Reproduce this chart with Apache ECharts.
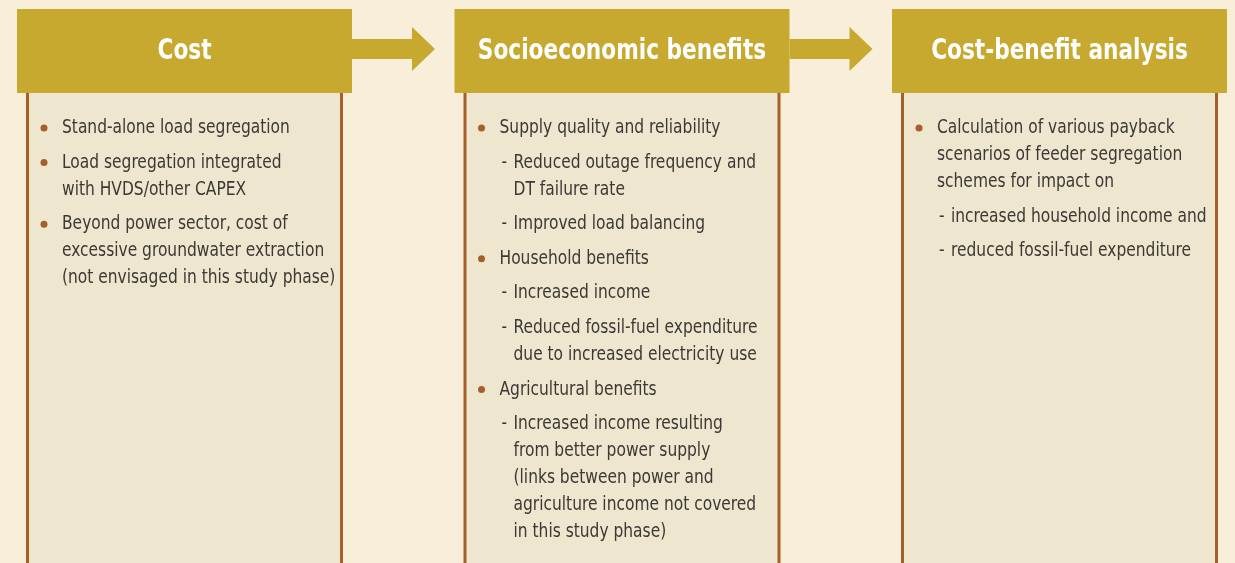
<!DOCTYPE html>
<html>
<head>
<meta charset="utf-8">
<script src="https://cdn.jsdelivr.net/npm/echarts@6/dist/echarts.min.js"></script>
<style>
  html, body { margin: 0; padding: 0; background: #F9EED9; }
  #main { width: 1235px; height: 563px; }
</style>
</head>
<body>
<div id="main"></div>
<script>
// column headings
var titles = ['Cost', 'Socioeconomic benefits', 'Cost-benefit analysis'];

// items per column: [level, text]  level 1 = bullet, level 2 = dash
var costItems = [
  [1, 'Stand-alone load segregation'],
  [1, 'Load segregation integrated\nwith HVDS/other CAPEX'],
  [1, 'Beyond power sector, cost of\nexcessive groundwater extraction\n(not envisaged in this study phase)']
];
var benefitItems = [
  [1, 'Supply quality and reliability'],
  [2, 'Reduced outage frequency and\nDT failure rate'],
  [2, 'Improved load balancing'],
  [1, 'Household benefits'],
  [2, 'Increased income'],
  [2, 'Reduced fossil-fuel expenditure\ndue to increased electricity use'],
  [1, 'Agricultural benefits'],
  [2, 'Increased income resulting\nfrom better power supply\n(links between power and\nagriculture income not covered\nin this study phase)']
];
var cbaItems = [
  [1, 'Calculation of various payback\nscenarios of feeder segregation\nschemes for impact on'],
  [2, 'increased household income and'],
  [2, 'reduced fossil-fuel expenditure']
];

var columns = [costItems, benefitItems, cbaItems];

var FONT = "'DejaVu Sans Condensed', 'Liberation Sans Narrow', sans-serif";
var GOLD = '#C6A92E';
var BROWN = '#A65F28';
var TEXT = '#3B3936';

// condensed look: squeeze text horizontally
function label (txt, x, y, opts) {
  return {
    type: 'text',
    x: x, y: y,
    scaleX: opts.scaleX,
    style: {
      text: txt, x: 0, y: 0,
      align: opts.align || 'left',
      verticalAlign: opts.verticalAlign || 'top',
      lineHeight: opts.lineHeight,
      fill: opts.fill || TEXT,
      fontSize: opts.fontSize || 19,
      fontWeight: opts.fontWeight || 'normal',
      fontFamily: FONT
    },
    z: 3
  };
}

function buildGraphic () {
  var els = [];
  for (var i = 0; i < columns.length; i++) {
    var x0 = 17 + i * 437.5;
    // body panel
    els.push({
      type: 'rect',
      shape: { x: x0 + 10.5, y: 90, width: 314, height: 490 },
      style: { fill: '#EFE6CF', stroke: BROWN, lineWidth: 3 },
      z: 1
    });
    // header
    els.push({
      type: 'rect',
      shape: { x: x0, y: 9, width: 335, height: 84 },
      style: { fill: GOLD },
      z: 2
    });
    els.push(label(titles[i], x0 + 167.5, 52, {
      align: 'center', verticalAlign: 'middle', scaleX: 0.86,
      fill: '#fff', fontSize: 28, fontWeight: 'bold'
    }));
    // arrow to next column
    if (i < columns.length - 1) {
      var xr = x0 + 335;
      els.push({
        type: 'polygon',
        shape: { points: [[xr, 39], [xr + 60, 39], [xr + 60, 27], [xr + 83, 49], [xr + 60, 71], [xr + 60, 59], [xr, 59]] },
        style: { fill: GOLD },
        z: 2
      });
    }
    // items
    var y = 128;
    var items = columns[i];
    for (var j = 0; j < items.length; j++) {
      var lvl = items[j][0];
      var txt = items[j][1];
      var lines = txt.split('\n').length;
      if (lvl === 1) {
        els.push({
          type: 'circle',
          shape: { cx: x0 + 27, cy: y, r: 3.5 },
          style: { fill: BROWN },
          z: 3
        });
      } else {
        els.push(label('-', x0 + 47, y - 13.5, { lineHeight: 27, scaleX: 0.9 }));
      }
      els.push(label(txt, x0 + (lvl === 1 ? 45 : 59), y - 13.5, { lineHeight: 27, scaleX: 0.905 }));
      y += (lines - 1) * 27 + 34.6;
    }
  }
  return els;
}

var myChart = echarts.init(document.getElementById('main'));
myChart.setOption({
  backgroundColor: '#F9EED9',
  animation: false,
  graphic: { elements: buildGraphic() }
});
</script>
</body>
</html>
